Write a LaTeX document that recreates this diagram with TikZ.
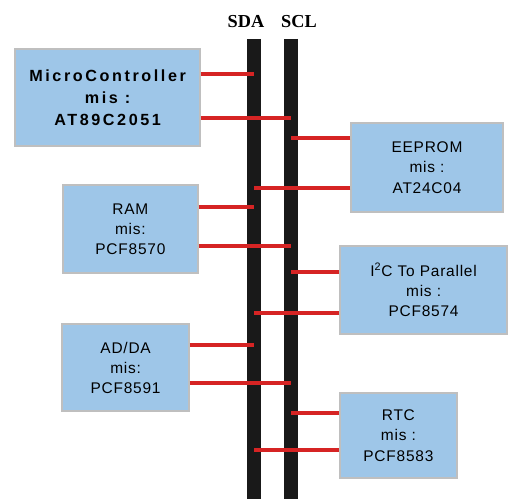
\documentclass[tikz,border=0pt]{standalone}
\usepackage{fontspec}
\setmainfont[LetterSpace=5]{Liberation Sans}
\newfontfamily\busfont{Liberation Serif}
\newfontfamily\mcufont[LetterSpace=16]{Liberation Sans}
\definecolor{boxblue}{RGB}{158,198,232}
\definecolor{wirered}{RGB}{214,36,36}

\begin{document}
\begin{tikzpicture}[font=\fontsize{11}{14.3}\selectfont,
  box/.style={draw=gray!50,fill=boxblue,line width=1pt,align=center,inner sep=0pt},
  wire/.style={wirered,line width=3pt},
  bus/.style={black!90,line width=.35cm}]
\useasboundingbox (0,0) rectangle (12.7,-12.475);
% bus lines
\coordinate (sda) at (6.35,-0.975);
\coordinate (scl) at (7.275,-0.975);
\node[font=\busfont\bfseries\fontsize{13}{15}\selectfont] (sdalabel) at (6.15,-0.55) {SDA};
\node[font=\busfont\bfseries\fontsize{13}{15}\selectfont] (scllabel) at (7.475,-0.55) {SCL};
\foreach \b in {sda,scl}{\draw[bus] (\b) -- (\b |- 0,-12.475);}
% devices
\node[box,minimum width=4.625cm,minimum height=2.425cm,font=\mcufont\bfseries\fontsize{11.5}{15.5}\selectfont] (mcu) at (2.69,-2.44) {MicroController\\mis :\\AT89C2051};
\node[box,minimum width=3.8cm,minimum height=2.225cm] (eeprom) at (10.675,-4.19) {EEPROM\\mis :\\AT24C04};
\node[box,minimum width=3.375cm,minimum height=2.2cm] (ram) at (3.26,-5.725) {RAM\\mis:\\PCF8570};
\node[box,minimum width=4.175cm,minimum height=2.2cm] (i2c) at (10.59,-7.25) {I\textsuperscript{2}C To Parallel\\mis :\\PCF8574};
\node[box,minimum width=3.175cm,minimum height=2.175cm] (adda) at (3.14,-9.19) {AD/DA\\mis:\\PCF8591};
\node[box,minimum width=2.925cm,minimum height=2.125cm] (rtc) at (9.96,-10.89) {RTC\\mis :\\PCF8583};
% connections
\foreach \n/\y/\b in {mcu/-1.85/sda,mcu/-2.95/scl,ram/-5.175/sda,ram/-6.15/scl,adda/-8.625/sda,adda/-9.575/scl}
  {\draw[wire] (\n.east |- 0,\y) -- (\b |- 0,\y);}
\foreach \n/\y/\b in {eeprom/-3.45/scl,eeprom/-4.7/sda,i2c/-6.8/scl,i2c/-7.825/sda,rtc/-10.325/scl,rtc/-11.25/sda}
  {\draw[wire] (\n.west |- 0,\y) -- (\b |- 0,\y);}
\end{tikzpicture}
\end{document}
